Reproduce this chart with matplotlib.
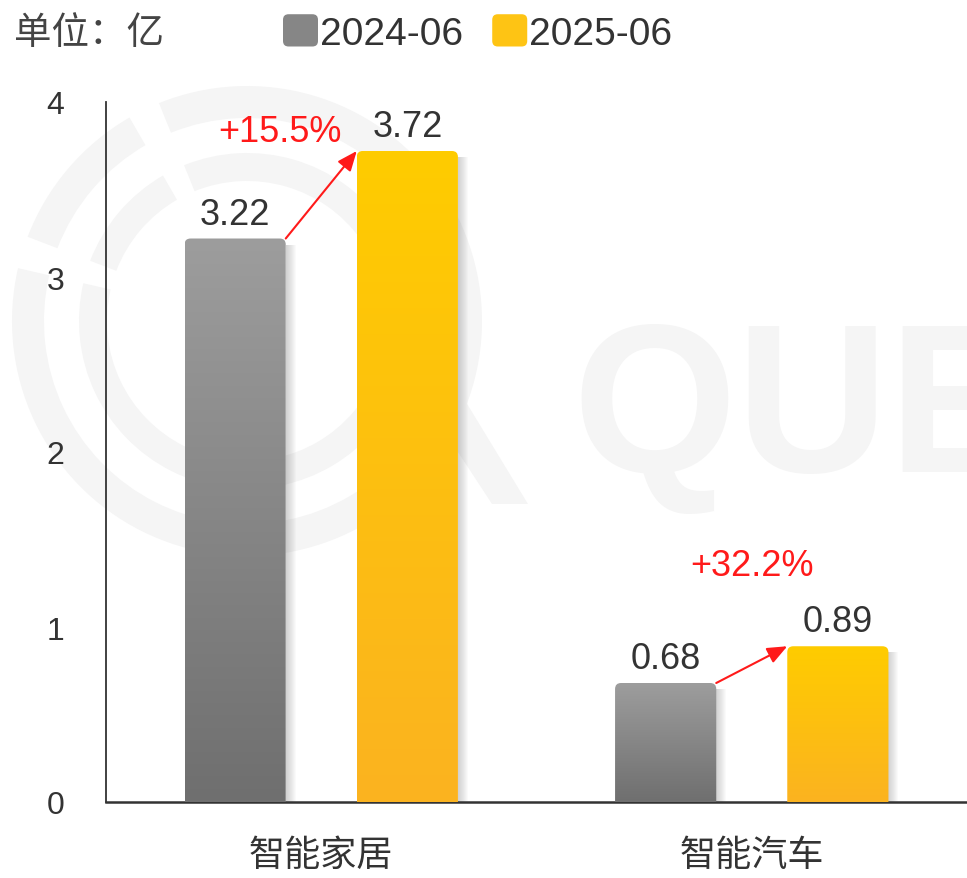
import numpy as np
import matplotlib.pyplot as plt
from matplotlib.patches import FancyBboxPatch, Rectangle, Wedge, Polygon, Patch
from matplotlib.legend_handler import HandlerBase
from matplotlib.colors import LinearSegmentedColormap

plt.rcParams['font.family'] = ['Liberation Sans', 'Noto Sans CJK SC', 'DejaVu Sans']

# data
categories = ['智能家居', '智能汽车']
series_names = ['2024-06', '2025-06']
values_2024 = [3.22, 0.68]
values_2025 = [3.72, 0.89]
growth_labels = ['+15.5%', '+32.2%']
unit_label = '单位：亿'

# style
grey_top, grey_bot = '#9d9d9d', '#6f6f6f'
yellow_top, yellow_bot = '#ffcc00', '#fbb320'
text_color = '#333333'
bar_width = 0.235
offset = 0.2
# growth label placement: (x offset from category centre, y)
growth_pos = [(-0.095, 3.83), (0.0, 1.35)]

W, H = 967, 879
fig = plt.figure(figsize=(W / 100, H / 100), dpi=100)

# watermark in pixel coords
bg = fig.add_axes([0, 0, 1, 1], zorder=0)
bg.set_xlim(0, W)
bg.set_ylim(H, 0)
bg.axis('off')
wm = '#f5f5f5'
cx, cy = 247, 322
for r, w in [(235, 32), (168, 28)]:
    for a0, a1 in [(-112, 193), (201, 240), (248, 248)]:
        if a1 > a0:
            bg.add_patch(Wedge((cx, cy), r, a0, a1, width=w, color=wm, lw=0))
bg.add_patch(Polygon([(420, 395), (455, 385), (528, 505), (492, 505)], closed=True, color=wm, lw=0))
bg.text(572, 472, 'QUE', fontsize=152, color=wm, ha='left', va='baseline',
        family='Liberation Sans', fontweight='bold')

ax = fig.add_axes([106 / W, 1 - 803 / H, 1 - 106 / W, (803 - 103) / H], zorder=1)
ax.patch.set_alpha(0)

x = np.arange(len(categories))
px_x = 1 / 430.5  # one pixel in x data units
px_y = 1 / 175.0
aspect = px_y / px_x


def gradient_bar(xc, h, c_top, c_bot):
    x0 = xc - bar_width / 2
    # soft shadow on the right
    for k in range(1, 11):
        ax.add_patch(Rectangle((x0 + bar_width, 0), k * px_x, h - 6 * px_y,
                               facecolor='#808080', alpha=0.04, lw=0, zorder=2))
    patch = FancyBboxPatch((x0, -0.1), bar_width, h + 0.1,
                           boxstyle='round,pad=0,rounding_size=%f' % (6 * px_x),
                           mutation_aspect=aspect, facecolor='none', edgecolor='none')
    ax.add_patch(patch)
    cmap = LinearSegmentedColormap.from_list('g', [c_bot, c_top])
    grad = np.linspace(0, 1, 256).reshape(-1, 1)
    im = ax.imshow(grad, cmap=cmap, extent=(x0, x0 + bar_width, 0, h), origin='lower',
                   aspect='auto', zorder=3, interpolation='bilinear')
    im.set_clip_path(patch)


for i in range(len(categories)):
    gradient_bar(x[i] - offset, values_2024[i], grey_top, grey_bot)
    gradient_bar(x[i] + offset, values_2025[i], yellow_top, yellow_bot)
    for xc, v in [(x[i] - offset, values_2024[i]), (x[i] + offset, values_2025[i])]:
        ax.annotate(f'{v:.2f}', (xc, v), xytext=(0, 5), textcoords='offset points',
                    ha='center', va='bottom', fontsize=26, color=text_color, zorder=5)
    ax.annotate('', xy=(x[i] + offset - bar_width / 2, values_2025[i]),
                xytext=(x[i] - offset + bar_width / 2, values_2024[i]),
                arrowprops=dict(arrowstyle='-|>,head_length=0.6,head_width=0.25',
                                color='#ff1a1a', lw=1.5, mutation_scale=20,
                                shrinkA=0, shrinkB=0), zorder=6)
    ax.text(x[i] + growth_pos[i][0], growth_pos[i][1], growth_labels[i], ha='center',
            va='center', fontsize=26, color='#ff1a1a', zorder=6)

ax.set_xlim(-0.5, 1.5)
ax.set_ylim(0, 4)
ax.set_yticks([0, 1, 2, 3, 4])
ax.set_xticks(x)
ax.set_xticklabels(categories)
ax.tick_params(axis='y', length=0, pad=30, labelsize=23, labelcolor=text_color)
ax.tick_params(axis='x', length=0, pad=26, labelsize=26, labelcolor=text_color)
for s in ['top', 'right']:
    ax.spines[s].set_visible(False)
ax.spines['left'].set_color('#333333')
ax.spines['left'].set_linewidth(1.3)
ax.spines['bottom'].set_color('#333333')
ax.spines['bottom'].set_linewidth(1.8)


class RoundHandler(HandlerBase):
    def create_artists(self, legend, orig_handle, xdescent, ydescent, width, height, fontsize, trans):
        p = FancyBboxPatch((-xdescent, -ydescent), width, height,
                           boxstyle='round,pad=0,rounding_size=4',
                           facecolor=orig_handle.get_facecolor(), edgecolor='none',
                           transform=trans)
        return [p]


handles = [Patch(facecolor='#868686'), Patch(facecolor='#fec414')]
leg = fig.legend(handles, series_names, loc='center left',
                 bbox_to_anchor=(283 / W, 1 - 34 / H), ncol=2, frameon=False,
                 fontsize=28, handlelength=0.9, handleheight=0.9, handletextpad=0.05,
                 columnspacing=0.75, borderpad=0, borderaxespad=0,
                 handler_map={Patch: RoundHandler()})
for t in leg.get_texts():
    t.set_color(text_color)

fig.text(14 / W, 1 - 34 / H, unit_label, fontsize=27, color='#444444', ha='left', va='center')

fig.savefig('out.png', dpi=100)
